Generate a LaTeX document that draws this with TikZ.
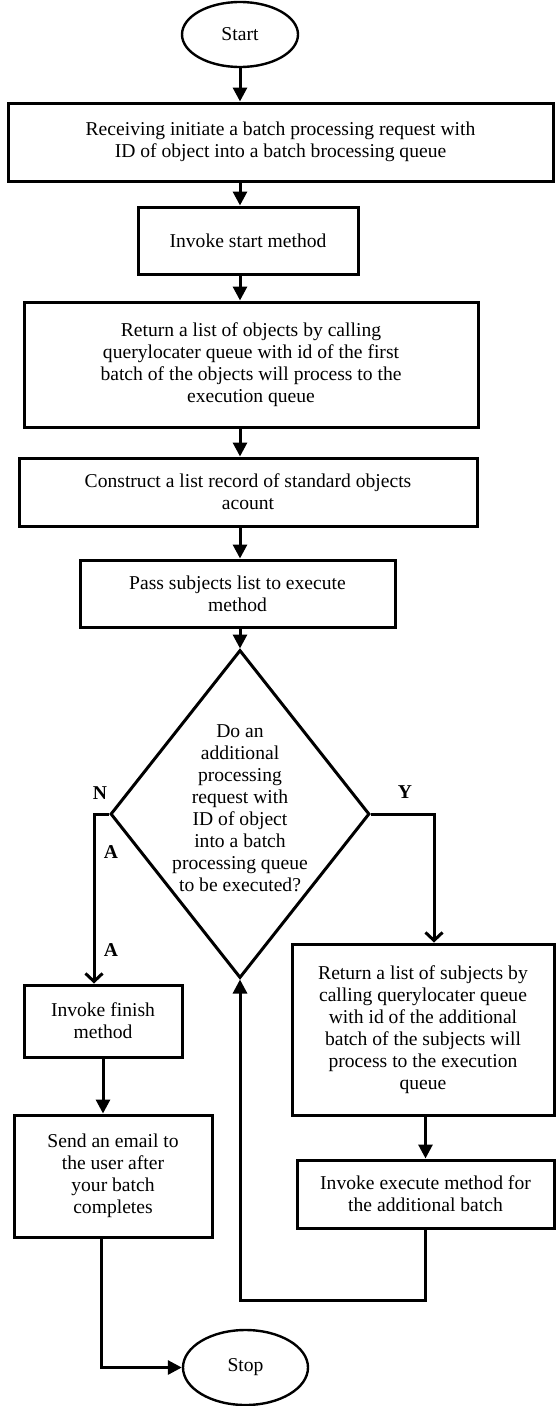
\documentclass[tikz,border=0pt]{standalone}
\usepackage{fontspec}
\setmainfont{Liberation Serif}
\usetikzlibrary{shapes.geometric,arrows.meta}
\begin{document}
\begin{tikzpicture}[x=1pt,y=1pt,
  every node/.style={font=\fontsize{19.6}{22}\selectfont},
  box/.style={draw, line width=3pt, rectangle, align=center, inner sep=0pt},
  term/.style={draw, ellipse, line width=2.4pt, inner sep=0pt},
  arr/.style={line width=3pt, -{Triangle[length=14pt,width=14pt]}},
  barb/.style={line width=3pt, -{Straight Barb[length=8pt,width=17pt]}},
  lab/.style={font=\fontsize{19.6}{22}\selectfont\bfseries}
]
\useasboundingbox (0,0) rectangle (555,-1406);

\coordinate (ax) at (240,0);
\coordinate (nx) at (94,0);
\coordinate (yx) at (434,0);
\coordinate (ex) at (101,0);
\coordinate (lp) at (0,-1300);

\node[term, minimum width=116pt, minimum height=65pt] (start) at (240,-34.5) {Start};
\node[box, minimum width=545pt, minimum height=78pt] (b1) at (280.5,-142)
  {Receiving initiate a batch processing request with\\ID of object into a batch brocessing queue};
\node[box, minimum width=220pt, minimum height=67pt] (b2) at (248,-240.5) {Invoke start method};
\node[box, minimum width=454pt, minimum height=125pt] (b3) at (251,-364.5)
  {Return a list of objects by calling\\querylocater queue with id of the first\\batch of the objects will process to the\\execution queue};
\node[box, minimum width=458pt, minimum height=68pt] (b4) at (248,-492)
  {Construct a list record of standard objects\\acount};
\node[box, minimum width=315pt, minimum height=67pt] (b5) at (237.5,-593.5)
  {Pass subjects list to execute\\method};
\node[draw, diamond, line width=3pt, minimum width=259pt, minimum height=328pt, inner sep=0pt] (dia) at (240,-814) {};
\node[align=center] (dtext) at (240,-808)
  {Do an\\additional\\processing\\request with\\ID of object\\into a batch\\processing queue\\to be executed?};
\node[lab] (nlab) at (100,-793) {N};
\node[lab] (ylab) at (405,-792) {Y};
\node[lab] (a1) at (111,-852) {A};
\node[lab] (a2) at (111,-950) {A};
\node[box, minimum width=158pt, minimum height=72pt] (fin) at (103,-1021) {Invoke finish\\method};
\node[box, minimum width=198pt, minimum height=122pt] (em) at (113,-1176)
  {Send an email to\\the user after\\your batch\\completes};
\node[box, minimum width=262pt, minimum height=171pt] (ret2) at (423,-1029.5)
  {Return a list of subjects by\\calling querylocater queue\\with id of the additional\\batch of the subjects will\\process to the execution\\queue};
\node[box, minimum width=257pt, minimum height=68pt] (exe) at (425.5,-1194)
  {Invoke execute method for\\the additional batch};
\node[term, minimum width=125pt, minimum height=75pt] (stop) at (245.5,-1367.5) {Stop};

\draw[arr] (start.south) -- (start.south |- b1.north);
\draw[arr] (b1.south -| ax) -- (b2.north -| ax);
\draw[arr] (b2.south -| ax) -- (b3.north -| ax);
\draw[arr] (b3.south -| ax) -- (b4.north -| ax);
\draw[arr] (b4.south -| ax) -- (b5.north -| ax);
\draw[arr] (b5.south -| ax) -- (dia.north);
\draw[barb] (dia.west) -- (dia.west -| nx) -- (nx |- fin.north);
\draw[barb] (dia.east) -- (dia.east -| yx) -- (yx |- ret2.north);
\draw[arr] (fin.south) -- (fin.south |- em.north);
\draw[arr] (em.south -| ex) |- (stop.west);
\draw[arr] (ret2.south -| exe.south) -- (exe.north);
\draw[arr] (exe.south) -- (exe.south |- lp) -| (dia.south);
\end{tikzpicture}
\end{document}
